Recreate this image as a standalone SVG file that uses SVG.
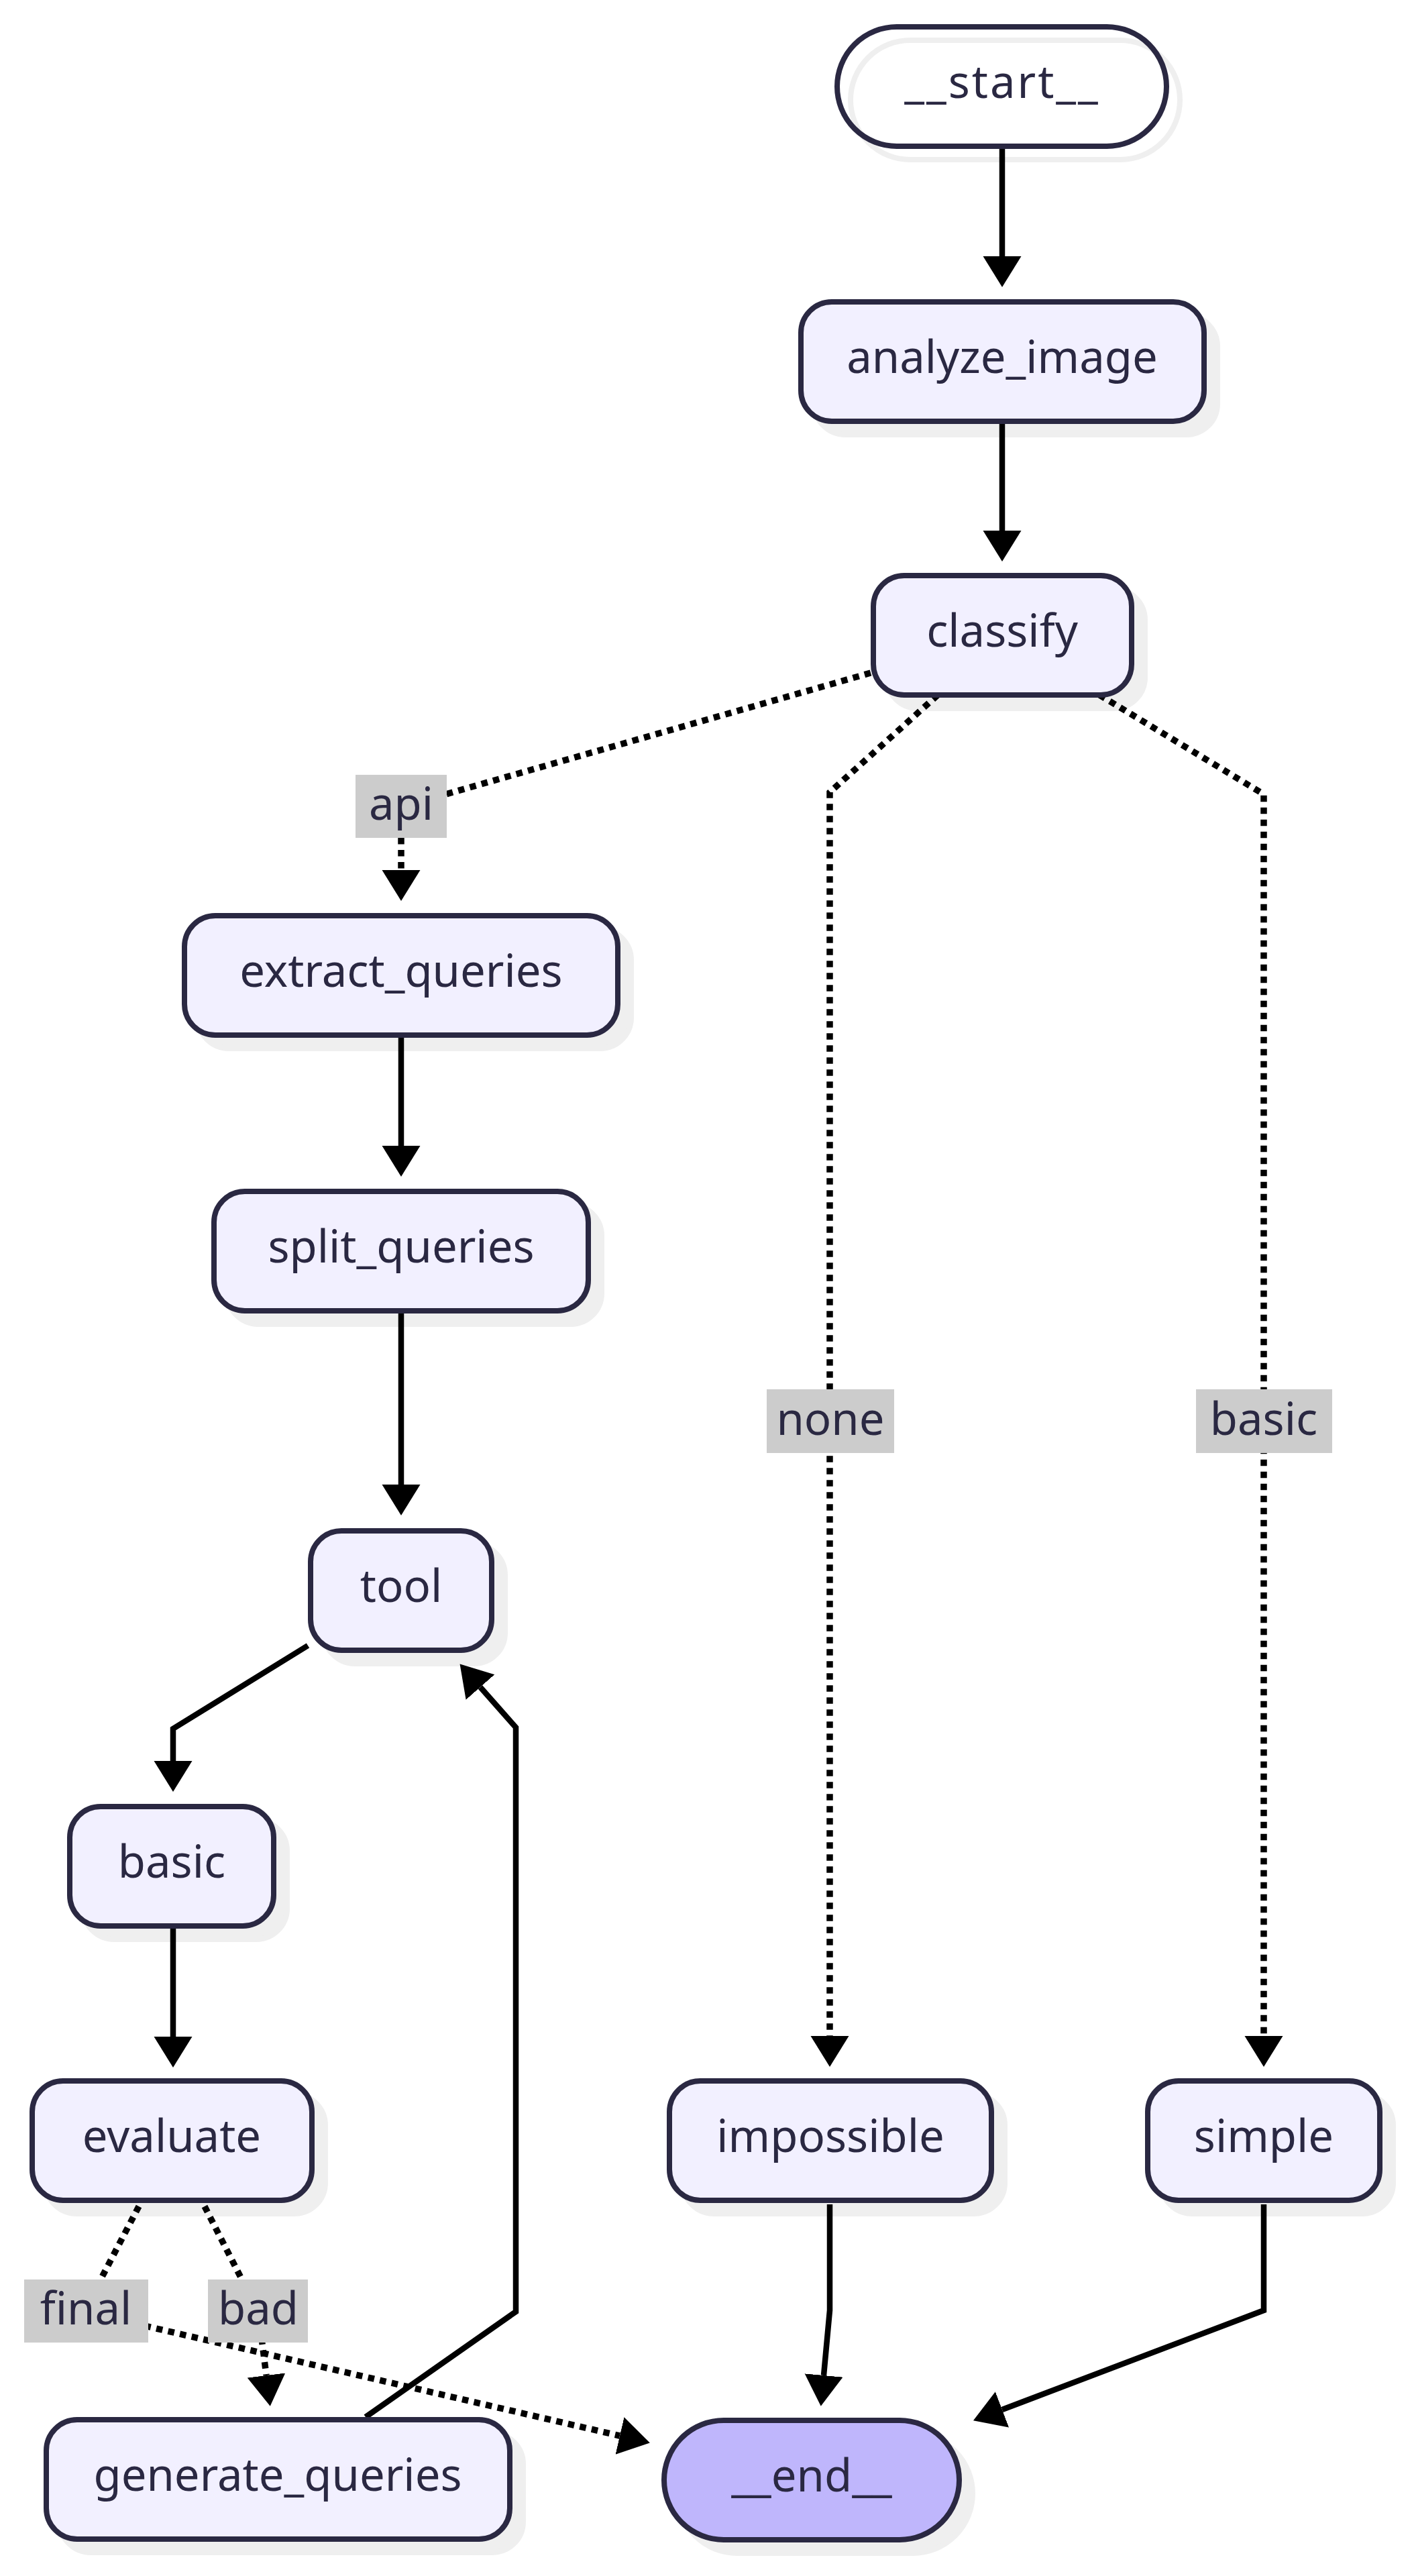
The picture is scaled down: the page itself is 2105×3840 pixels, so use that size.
<svg xmlns="http://www.w3.org/2000/svg" width="2105" height="3840" viewBox="0 0 2105 3840">
<style>
.node{fill:#f2f0ff;stroke:#2a2842;stroke-width:8}
.first{fill:none;stroke:#2a2842;stroke-width:8}
.last{fill:#bfb6fc;stroke:#2a2842;stroke-width:8}
.shadow{fill:#efefef;stroke:#efefef;stroke-width:8}
.shadowline{fill:none;stroke:#efefef;stroke-width:8}
.t{font-family:"Noto Sans","Liberation Sans",sans-serif;font-size:67px;fill:#2a2842;text-anchor:middle}
.edge{fill:none;stroke:#000;stroke-width:8.5;marker-end:url(#arrow)}
.dot{stroke-width:9.5;stroke-dasharray:9.5 8.5}
.lbl{fill:#cccccc}
</style>
<defs>
<marker id="arrow" markerUnits="userSpaceOnUse" markerWidth="48" markerHeight="58" refX="0" refY="28.5" orient="auto" viewBox="0 0 48 58">
<path d="M0,0 L46,28.5 L0,57 Z" fill="#000"/>
</marker>
</defs>
<rect width="2105" height="3840" fill="#fff"/>
<g id="shadows">
<rect class="shadowline" x="1268" y="60" width="491" height="178" rx="89"/>
<rect class="shadow" x="1214" y="470" width="601" height="178" rx="46"/>
<rect class="shadow" x="1322" y="878" width="385" height="178" rx="46"/>
<rect class="shadow" x="295" y="1385" width="646" height="178" rx="46"/>
<rect class="shadow" x="339" y="1796" width="558" height="178" rx="46"/>
<rect class="shadow" x="483" y="2302" width="270" height="178" rx="46"/>
<rect class="shadow" x="124" y="2713" width="304" height="178" rx="46"/>
<rect class="shadow" x="68" y="3122" width="417" height="178" rx="46"/>
<rect class="shadow" x="1018" y="3122" width="480" height="178" rx="46"/>
<rect class="shadow" x="1731" y="3122" width="346" height="178" rx="46"/>
<rect class="shadow" x="89" y="3627" width="691" height="178" rx="46"/>
<rect class="shadow" x="1010" y="3628" width="440" height="178" rx="89"/>
</g>
<g id="connectors">
<path class="edge" d="M1494,222 L1494,382"/>
<path class="edge" d="M1494,632 L1494,791"/>
<path class="edge dot" d="M1298,1003 L598,1203 L598,1297"/>
<path class="edge dot" d="M1398,1036 L1237,1181 L1237,3035"/>
<path class="edge dot" d="M1639,1036 L1884,1184 L1884,3035"/>
<path class="edge" d="M598,1547 L598,1708"/>
<path class="edge" d="M598,1958 L598,2213"/>
<path class="edge" d="M459,2453 L258,2577 L258,2625"/>
<path class="edge" d="M258,2875 L258,3036"/>
<path class="edge dot" d="M305,3289 L385,3446 L397,3541"/>
<path class="edge dot" d="M207,3289 L125,3446 L924,3631"/>
<path class="edge" d="M545,3603 L769,3446 L769,2575 L716,2515"/>
<path class="edge" d="M1237,3286 L1237,3444 L1228,3541"/>
<path class="edge" d="M1884,3286 L1884,3444 L1494,3592"/>
</g>
<g id="edge-labels">
<g id="label-api"><rect class="lbl" x="530" y="1155" width="136" height="94"/><text class="t" x="598" y="1222">api</text></g>
<g id="label-none"><rect class="lbl" x="1143" y="2071" width="190" height="95"/><text class="t" x="1238" y="2139">none</text></g>
<g id="label-basic"><rect class="lbl" x="1783" y="2071" width="203" height="95"/><text class="t" x="1884" y="2139">basic</text></g>
<g id="label-final"><rect class="lbl" x="36" y="3398" width="185" height="94"/><text class="t" x="128" y="3465">final</text></g>
<g id="label-bad"><rect class="lbl" x="310" y="3398" width="149" height="94"/><text class="t" x="385" y="3465">bad</text></g>
</g>
<g id="node-start"><rect class="first" x="1248" y="40" width="491" height="178" rx="89"/><text class="t" x="1494" y="146" letter-spacing="3">__start__</text></g>
<g id="node-analyze_image"><rect class="node" x="1194" y="450" width="601" height="178" rx="46"/><text class="t" x="1494" y="556">analyze_image</text></g>
<g id="node-classify"><rect class="node" x="1302" y="858" width="385" height="178" rx="46"/><text class="t" x="1494" y="964">classify</text></g>
<g id="node-extract_queries"><rect class="node" x="275" y="1365" width="646" height="178" rx="46"/><text class="t" x="598" y="1471">extract_queries</text></g>
<g id="node-split_queries"><rect class="node" x="319" y="1776" width="558" height="178" rx="46"/><text class="t" x="598" y="1882">split_queries</text></g>
<g id="node-tool"><rect class="node" x="463" y="2282" width="270" height="178" rx="46"/><text class="t" x="598" y="2388">tool</text></g>
<g id="node-basic"><rect class="node" x="104" y="2693" width="304" height="178" rx="46"/><text class="t" x="256" y="2799">basic</text></g>
<g id="node-evaluate"><rect class="node" x="48" y="3102" width="417" height="178" rx="46"/><text class="t" x="256" y="3208">evaluate</text></g>
<g id="node-impossible"><rect class="node" x="998" y="3102" width="480" height="178" rx="46"/><text class="t" x="1238" y="3208">impossible</text></g>
<g id="node-simple"><rect class="node" x="1711" y="3102" width="346" height="178" rx="46"/><text class="t" x="1884" y="3208">simple</text></g>
<g id="node-generate_queries"><rect class="node" x="69" y="3607" width="691" height="178" rx="46"/><text class="t" x="414" y="3713">generate_queries</text></g>
<g id="node-end"><rect class="last" x="990" y="3608" width="440" height="178" rx="89"/><text class="t" x="1210" y="3714">__end__</text></g>
</svg>
